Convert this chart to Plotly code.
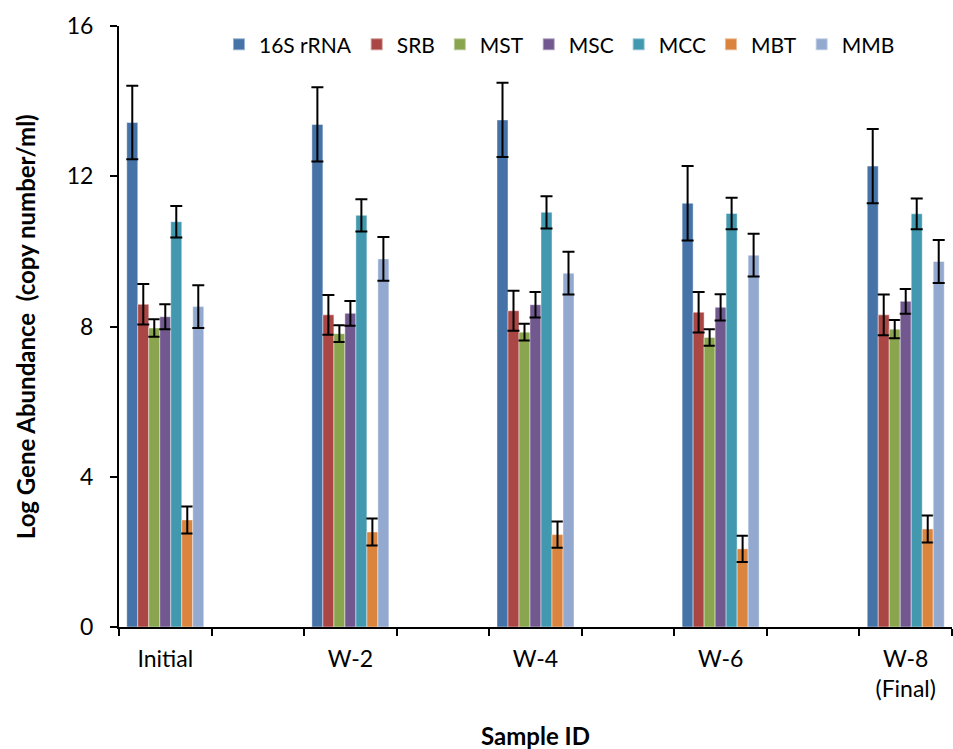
import plotly.graph_objects as go

# Sampling points
categories = ["Initial", "W-2", "W-4", "W-6", "W-8<br>(Final)"]

# Log gene abundance (copy number/ml) per marker gene
rrna_16s = [13.43, 13.38, 13.50, 11.28, 12.27]
srb = [8.59, 8.31, 8.42, 8.38, 8.31]
mst = [7.96, 7.81, 7.85, 7.71, 7.93]
msc = [8.26, 8.35, 8.58, 8.51, 8.67]
mcc = [10.79, 10.96, 11.04, 11.01, 11.00]
mbt = [2.85, 2.53, 2.46, 2.08, 2.61]
mmb = [8.53, 9.80, 9.42, 9.90, 9.73]

# Standard deviations
rrna_16s_err = [0.98, 0.99, 0.99, 0.99, 0.99]
srb_err = [0.54, 0.53, 0.53, 0.54, 0.54]
mst_err = [0.23, 0.22, 0.22, 0.22, 0.24]
msc_err = [0.33, 0.33, 0.34, 0.35, 0.33]
mcc_err = [0.42, 0.43, 0.43, 0.42, 0.41]
mbt_err = [0.36, 0.36, 0.35, 0.35, 0.36]
mmb_err = [0.57, 0.58, 0.57, 0.57, 0.57]

series_names = ["16S rRNA", "SRB", "MST", "MSC", "MCC", "MBT", "MMB"]
series_values = [rrna_16s, srb, mst, msc, mcc, mbt, mmb]
series_errors = [rrna_16s_err, srb_err, mst_err, msc_err, mcc_err, mbt_err, mmb_err]
colors = ["#4572A7", "#AA4643", "#89A54E", "#71588F", "#4198AF", "#DB843D", "#93A9CF"]

y_ticks = [0, 4, 8, 12, 16]

# each sample occupies every other slot on the category axis
positions = [2 * i for i in range(len(categories))]
x_max = 2 * len(categories) - 1.5
slot_edges = [p - 0.5 for p in range(2 * len(categories))] + [x_max]

TEXT_FONT = "Lato"

fig = go.Figure()
for name, vals, errs, col in zip(series_names, series_values, series_errors, colors):
    fig.add_trace(go.Bar(
        name=name,
        x=positions,
        y=vals,
        marker=dict(color=col, line=dict(color="rgba(255,255,255,0.45)", width=1)),
        error_y=dict(type="data", array=errs, visible=True,
                     color="black", thickness=2, width=6),
    ))

fig.update_layout(
    width=953,
    height=749,
    margin=dict(l=119, r=1, t=26, b=122),
    paper_bgcolor="white",
    plot_bgcolor="white",
    barmode="group",
    bargap=0.584,
    bargroupgap=0,
    font=dict(family=TEXT_FONT, size=23, color="black"),
    showlegend=True,
    legend=dict(
        orientation="h",
        x=0.12,
        y=1.003,
        xanchor="left",
        yanchor="top",
        font=dict(family=TEXT_FONT, size=21, color="black"),
        bgcolor="rgba(0,0,0,0)",
        itemsizing="constant",
        itemwidth=30,
        tracegroupgap=0,
    ),
    xaxis=dict(
        range=[-0.5, x_max],
        tickmode="array",
        tickvals=positions,
        ticktext=categories,
        ticks="",
        ticklabelstandoff=10,
        tickfont=dict(family=TEXT_FONT, size=23, color="black"),
        showline=True,
        linecolor="black",
        linewidth=2,
        showgrid=False,
        zeroline=False,
        minor=dict(
            tickmode="array",
            tickvals=slot_edges,
            ticks="outside",
            ticklen=7,
            tickwidth=2,
            tickcolor="black",
            showgrid=False,
        ),
    ),
    yaxis=dict(
        range=[0, 16],
        tickmode="array",
        tickvals=y_ticks,
        ticks="outside",
        ticklen=7,
        tickwidth=2,
        tickcolor="black",
        ticklabelstandoff=12,
        tickfont=dict(family=TEXT_FONT, size=23, color="black"),
        showline=True,
        linecolor="black",
        linewidth=2,
        showgrid=False,
        zeroline=False,
    ),
    annotations=[
        dict(
            text="<b>Sample ID</b>",
            xref="paper", yref="paper",
            x=0.5, y=-0.18,
            xanchor="center", yanchor="middle",
            showarrow=False,
            font=dict(family=TEXT_FONT, size=24, color="black"),
        ),
        dict(
            text="<b>Log Gene Abundance  (copy number/ml)</b>",
            xref="paper", yref="paper",
            x=-0.112, y=0.5,
            xanchor="center", yanchor="middle",
            textangle=-90,
            showarrow=False,
            font=dict(family=TEXT_FONT, size=24, color="black"),
        ),
    ],
)

fig.write_html("out.html")
